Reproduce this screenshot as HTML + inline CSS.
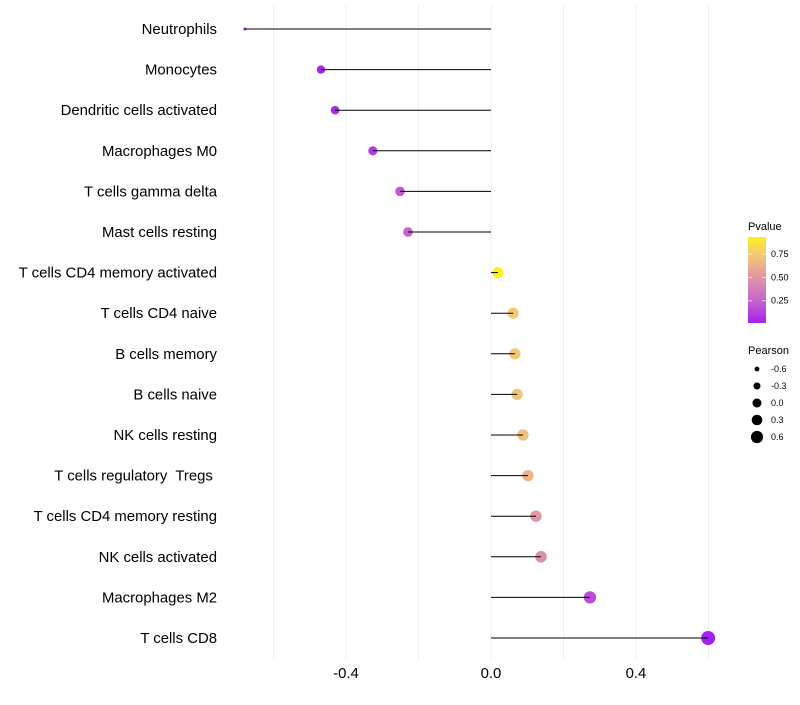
<!DOCTYPE html>
<html><head><meta charset="utf-8"><style>
body{margin:0;background:#fff;font-family:"Liberation Sans",sans-serif}
text{white-space:pre}
</style></head><body>
<svg id="chart" width="800" height="700" xmlns="http://www.w3.org/2000/svg" font-family="Liberation Sans, sans-serif">
<g id="grid"></g>
<g id="marks"></g>
<g id="ylabels"></g>
<g id="xlabels"></g>
<g id="legend"></g>
</svg>
<script>
const categories=["Neutrophils","Monocytes","Dendritic cells activated","Macrophages M0","T cells gamma delta","Mast cells resting","T cells CD4 memory activated","T cells CD4 naive","B cells memory","B cells naive","NK cells resting","T cells regulatory  Tregs ","T cells CD4 memory resting","NK cells activated","Macrophages M2","T cells CD8"];
const pearson=[-0.679,-0.469,-0.43,-0.326,-0.251,-0.229,0.019,0.061,0.066,0.072,0.088,0.102,0.124,0.138,0.273,0.599];
const pvalues=[0.02,0.03,0.05,0.1,0.2,0.25,0.93,0.75,0.74,0.73,0.7,0.65,0.5,0.45,0.16,0.01];
const xTicks=[-0.4,0.0,0.4];
const xGrid=[-0.6,-0.4,-0.2,0,0.2,0.4,0.6];
const pTicks=[0.25,0.5,0.75];
const sizeLegend=[-0.6,-0.3,0.0,0.3,0.6];

const NS="http://www.w3.org/2000/svg";
const x=v=>491+v*362.5;
const y=i=>29+i*40.6;
function rScale(v){const d=[-0.68,-0.6,-0.47,0.6],r=[1.5,3,4.2,7];
 if(v<=d[0])return r[0];for(let i=1;i<d.length;i++)if(v<=d[i])return r[i-1]+(v-d[i-1])/(d[i]-d[i-1])*(r[i]-r[i-1]);return r[r.length-1];}
function color(p){const s=[[0,[160,32,240]],[0.25,[200,100,204]],[0.5,[225,150,165]],[0.75,[245,200,115]],[1,[255,255,0]]];
 for(let i=1;i<s.length;i++)if(p<=s[i][0]){const t=(p-s[i-1][0])/(s[i][0]-s[i-1][0]);const c=s[i-1][1].map((a,k)=>Math.round(a+t*(s[i][1][k]-a)));return `rgb(${c})`;}
 return "rgb(255,255,0)";}
function el(tag,attrs,parent){const e=document.createElementNS(NS,tag);for(const k in attrs)e.setAttribute(k,attrs[k]);parent.appendChild(e);return e;}
const grid=document.getElementById('grid'),marks=document.getElementById('marks'),yl=document.getElementById('ylabels'),xl=document.getElementById('xlabels'),lg=document.getElementById('legend');
xGrid.forEach(v=>{const l=el('line',{x1:x(v),x2:x(v),y1:5,y2:660,stroke:'#f0f0f0','stroke-width':1},grid);

});
categories.forEach((c,i)=>{
 const cy=y(i);
 const dot=el('circle',{cx:x(pearson[i]),cy:cy,r:rScale(pearson[i]),fill:color(pvalues[i])},marks);
 
 
 const ln=el('line',{x1:x(0),x2:x(pearson[i]),y1:cy,y2:cy,stroke:'#000','stroke-width':1},marks);
 
 
 const t=el('text',{x:217,y:cy+5,'text-anchor':'end','font-size':14.9,fill:'#000'},yl);t.textContent=c;
 
 
});
xTicks.forEach(v=>{const t=el('text',{x:x(v),y:678,'text-anchor':'middle','font-size':14.9,fill:'#000'},xl);t.textContent=v.toFixed(1);

});
const defs=el('defs',{},lg);const g=el('linearGradient',{id:'pg',x1:0,y1:1,x2:0,y2:0},defs);
const pMin=0.01,pMax=0.935;
for(let k=0;k<=10;k++){const p=pMin+(pMax-pMin)*k/10;el('stop',{offset:k/10,'stop-color':color(p)},g);}
const pt=el('text',{x:748,y:230,'font-size':11,fill:'#000'},lg);pt.textContent='Pvalue';


const cb=el('rect',{x:748,y:237,width:18,height:86,fill:'url(#pg)'},lg);


const py=p=>323-(p-pMin)/(pMax-pMin)*86;
pTicks.forEach(p=>{el('line',{x1:748,x2:752,y1:py(p),y2:py(p),stroke:'#fff','stroke-opacity':0.6},lg);el('line',{x1:762,x2:766,y1:py(p),y2:py(p),stroke:'#fff','stroke-opacity':0.6},lg);
const t=el('text',{x:771,y:py(p)+3,'font-size':9,fill:'#000'},lg);t.textContent=p.toFixed(2);

});
const st=el('text',{x:748,y:354,'font-size':11,fill:'#000'},lg);st.textContent='Pearson';


const lr=[2.4,3.5,4.5,5.3,6.1];
sizeLegend.forEach((v,i)=>{const cy=369+i*17;const c=el('circle',{cx:757,cy:cy,r:lr[i],fill:'#000'},lg);


const t=el('text',{x:771,y:cy+3,'font-size':9,fill:'#000'},lg);t.textContent=v.toFixed(1);

});
</script>
</body></html>
